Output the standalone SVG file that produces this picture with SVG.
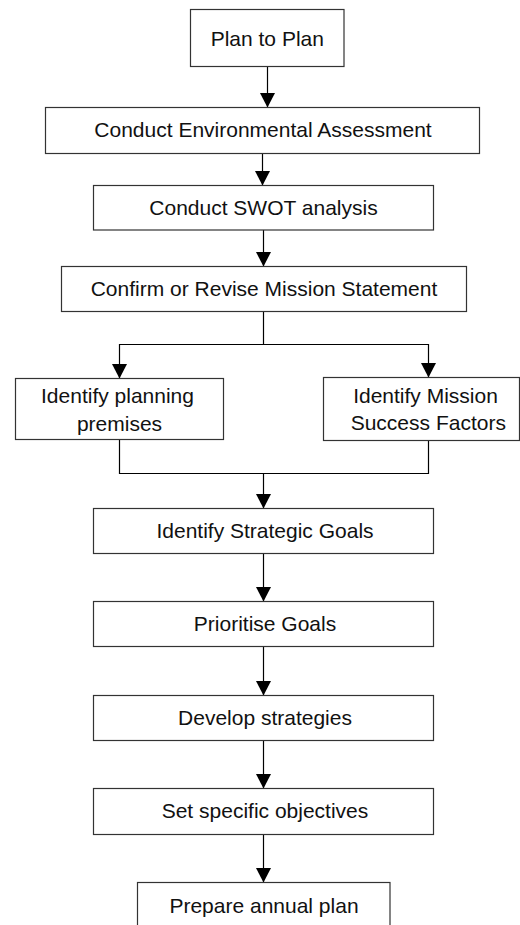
<svg xmlns="http://www.w3.org/2000/svg" width="520" height="925" viewBox="0 0 520 925">
  <style>
    .box { fill: #ffffff; stroke: #333333; stroke-width: 1.2; }
    .lbl { font-family: "Liberation Sans", Arial, sans-serif; font-size: 21px; fill: #111111; text-anchor: middle; }
    .wire { fill: none; stroke: #000000; stroke-width: 1.2; }
  </style>
  <defs>
    <marker id="arrow" markerUnits="userSpaceOnUse" markerWidth="16" markerHeight="16" refX="15" refY="7.75" orient="auto">
      <path d="M0,0 L15,7.75 L0,15.5 z" fill="#000000"/>
    </marker>
  </defs>

  <rect width="520" height="925" fill="#ffffff"/>

  <g id="connectors">
    <path class="wire" d="M267.5,66.5 V107.5" marker-end="url(#arrow)"/>
    <path class="wire" d="M262.5,153.5 V185.5" marker-end="url(#arrow)"/>
    <path class="wire" d="M263.5,230 V266.5" marker-end="url(#arrow)"/>
    <path class="wire" d="M263.5,311.5 V344.5 H119.5 V378.5" marker-end="url(#arrow)"/>
    <path class="wire" d="M263.5,344.5 H428.5 V377.5" marker-end="url(#arrow)"/>
    <path class="wire" d="M119.5,439.5 V473.5 H428.5 V440.5"/>
    <path class="wire" d="M263.5,473.5 V508.5" marker-end="url(#arrow)"/>
    <path class="wire" d="M263.5,553.5 V601.5" marker-end="url(#arrow)"/>
    <path class="wire" d="M263.5,646.5 V695.5" marker-end="url(#arrow)"/>
    <path class="wire" d="M263.5,740.5 V788.5" marker-end="url(#arrow)"/>
    <path class="wire" d="M263.5,834.5 V882.5" marker-end="url(#arrow)"/>
  </g>

  <g id="plan-to-plan">
    <rect class="box" x="190.5" y="9.5" width="153.5" height="57"/>
    <text class="lbl" x="267.3" y="45.7">Plan to Plan</text>
  </g>
  <g id="environmental-assessment">
    <rect class="box" x="45.5" y="107.5" width="434" height="46"/>
    <text class="lbl" x="263" y="136.7">Conduct Environmental Assessment</text>
  </g>
  <g id="swot-analysis">
    <rect class="box" x="93.5" y="185.5" width="340" height="44.5"/>
    <text class="lbl" x="263.5" y="215">Conduct SWOT analysis</text>
  </g>
  <g id="mission-statement">
    <rect class="box" x="61.5" y="266.5" width="405" height="45"/>
    <text class="lbl" x="264" y="296">Confirm or Revise Mission Statement</text>
  </g>
  <g id="planning-premises">
    <rect class="box" x="15.5" y="378.5" width="208" height="61"/>
    <text class="lbl" x="117.5" y="403.3">Identify planning</text>
    <text class="lbl" x="119.5" y="430.7">premises</text>
  </g>
  <g id="success-factors">
    <rect class="box" x="323.5" y="377.5" width="196" height="63"/>
    <text class="lbl" x="425.5" y="402.7">Identify Mission</text>
    <text class="lbl" x="428.3" y="430">Success Factors</text>
  </g>
  <g id="strategic-goals">
    <rect class="box" x="93.5" y="508.5" width="340" height="45"/>
    <text class="lbl" x="265" y="537.7">Identify Strategic Goals</text>
  </g>
  <g id="prioritise-goals">
    <rect class="box" x="93.5" y="601.5" width="340" height="45"/>
    <text class="lbl" x="265" y="631">Prioritise Goals</text>
  </g>
  <g id="develop-strategies">
    <rect class="box" x="93.5" y="695.5" width="340" height="45"/>
    <text class="lbl" x="265" y="725">Develop strategies</text>
  </g>
  <g id="specific-objectives">
    <rect class="box" x="93.5" y="788.5" width="340" height="46"/>
    <text class="lbl" x="265" y="818.3">Set specific objectives</text>
  </g>
  <g id="annual-plan">
    <rect class="box" x="137.5" y="882.5" width="252.5" height="50"/>
    <text class="lbl" x="264" y="913.3">Prepare annual plan</text>
  </g>
</svg>
